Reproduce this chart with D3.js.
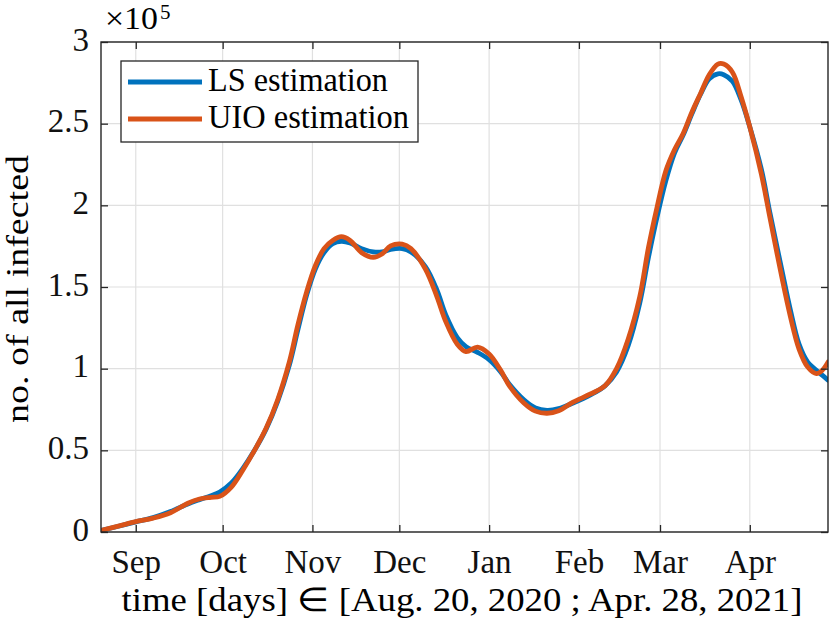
<!DOCTYPE html>
<html>
<head>
<meta charset="utf-8">
<script src="https://cdn.jsdelivr.net/npm/d3@7"></script>
<style>
body { margin: 0; background: #fff; }
svg { display: block; }
svg text { font-family: "Liberation Serif", "Times New Roman", serif; }
</style>
</head>
<body>
<svg id="grafico" width="830" height="627"></svg>
<script>
// days counted from Aug. 20, 2020
let dias = [0, 6, 12, 18, 24, 30, 34, 38, 41, 45, 49, 53, 57, 61, 65, 68, 71, 74, 77, 80,
  83, 86, 90, 94, 97, 100, 104, 107, 112, 116, 119, 123, 126, 130, 134, 138, 141, 146,
  150, 154, 158, 163, 169, 174, 178, 182, 186, 189, 192, 195, 198, 201, 204, 207, 210,
  213, 215, 218, 221, 224, 228, 231, 235, 238, 241, 244, 247, 249, 251];

// values in units of 1e5
let lsEstimation = [0.01, 0.035, 0.062, 0.088, 0.125, 0.172, 0.198, 0.222, 0.245, 0.30,
  0.39, 0.50, 0.63, 0.80, 1.02, 1.24, 1.45, 1.61, 1.71, 1.765, 1.78, 1.77, 1.735, 1.715,
  1.715, 1.73, 1.735, 1.715, 1.625, 1.48, 1.33, 1.19, 1.135, 1.10, 1.055, 0.98, 0.905,
  0.81, 0.76, 0.745, 0.755, 0.79, 0.84, 0.895, 0.98, 1.14, 1.40, 1.68, 1.93, 2.15, 2.32,
  2.43, 2.56, 2.68, 2.775, 2.805, 2.80, 2.76, 2.645, 2.48, 2.22, 1.95, 1.61, 1.36, 1.15,
  1.04, 0.99, 0.96, 0.93];

let uioEstimation = [0.01, 0.036, 0.063, 0.085, 0.118, 0.176, 0.202, 0.212, 0.218, 0.275,
  0.38, 0.50, 0.635, 0.81, 1.04, 1.27, 1.47, 1.63, 1.735, 1.785, 1.808, 1.785, 1.71, 1.682,
  1.702, 1.752, 1.763, 1.735, 1.61, 1.44, 1.29, 1.15, 1.105, 1.132, 1.09, 0.99, 0.895,
  0.79, 0.74, 0.727, 0.742, 0.795, 0.845, 0.895, 1.0, 1.18, 1.44, 1.74, 1.99, 2.21, 2.34,
  2.44, 2.57, 2.685, 2.80, 2.865, 2.865, 2.815, 2.665, 2.48, 2.19, 1.92, 1.565, 1.32, 1.12,
  1.01, 0.97, 0.99, 1.04];

let meses = ['Sep', 'Oct', 'Nov', 'Dec', 'Jan', 'Feb', 'Mar', 'Apr'];
let yTicks = [0, 0.5, 1, 1.5, 2, 2.5, 3];
let legendas = ['LS estimation', 'UIO estimation'];
let cores = ['#0072BD', '#D95319'];

let inicio = new Date(2020, 7, 20);
let fim = new Date(2021, 3, 28);

let svg = d3.select('#grafico');
let esq = 101, dir = 828, topo = 42, base = 532;
let larguraPlotagem = dir - esq;
let alturaPlotagem = base - topo;

let fnx = d3.scaleTime().domain([inicio, fim]).range([0, larguraPlotagem]);
let fny = d3.scaleLinear().domain([0, 3]).range([alturaPlotagem, 0]);

let plotagem = svg.append('g').attr('transform', `translate(${esq}, ${topo})`);

svg.append('defs').append('clipPath').attr('id', 'recorte')
  .append('rect').attr('width', larguraPlotagem).attr('height', alturaPlotagem);

let tickDatas = d3.timeMonth.range(d3.timeMonth.ceil(inicio), fim);

// grid
let grade = plotagem.append('g').attr('class', 'grade');
grade.selectAll('.gx').data(tickDatas).join('line')
  .attr('x1', d => fnx(d)).attr('x2', d => fnx(d))
  .attr('y1', 0).attr('y2', alturaPlotagem);
grade.selectAll('.gy').data(yTicks).join('line')
  .attr('x1', 0).attr('x2', larguraPlotagem)
  .attr('y1', d => fny(d)).attr('y2', d => fny(d));
grade.selectAll('line').attr('stroke', '#e0e0e0').attr('stroke-width', 1.2);

// curves
let linha = d3.line()
  .x(d => fnx(d3.timeDay.offset(inicio, d[0])))
  .y(d => fny(d[1]))
  .curve(d3.curveCatmullRom.alpha(0.5));

let series = [lsEstimation, uioEstimation];
plotagem.append('g').attr('clip-path', 'url(#recorte)')
  .selectAll('path').data(series).join('path')
  .attr('d', s => linha(dias.map((d, i) => [d, s[i]])))
  .attr('fill', 'none')
  .attr('stroke', (s, i) => cores[i])
  .attr('stroke-width', 4.8)
  .attr('stroke-linejoin', 'round')
  .attr('stroke-linecap', 'round');

// axes, ticks inward on all sides
let eixoX = d3.axisBottom(fnx).tickValues(tickDatas)
  .tickFormat((d, i) => meses[i]).tickSizeInner(-7).tickSizeOuter(0).tickPadding(18);
let eixoY = d3.axisLeft(fny).tickValues(yTicks)
  .tickFormat(d3.format('~g')).tickSizeInner(-7).tickSizeOuter(0).tickPadding(12);

let gx = plotagem.append('g').attr('transform', `translate(0, ${alturaPlotagem})`).call(eixoX);
let gy = plotagem.append('g').call(eixoY);
let gt = plotagem.append('g').call(d3.axisTop(fnx).tickValues(tickDatas).tickFormat('').tickSizeInner(-7).tickSizeOuter(0));
let gr = plotagem.append('g').attr('transform', `translate(${larguraPlotagem}, 0)`)
  .call(d3.axisRight(fny).tickValues(yTicks).tickFormat('').tickSizeInner(-7).tickSizeOuter(0));

[gx, gy, gt, gr].forEach(g => {
  g.attr('font-family', null).attr('font-size', null);
  g.select('.domain').remove();
  g.selectAll('line').attr('stroke', '#262626').attr('stroke-width', 1.3);
  g.selectAll('text').attr('fill', '#111').style('font-size', '33px');
});
gy.selectAll('text').attr('dy', '0.25em');

plotagem.append('rect')
  .attr('width', larguraPlotagem).attr('height', alturaPlotagem)
  .attr('fill', 'none').attr('stroke', '#262626').attr('stroke-width', 1.4);

// exponent
svg.append('text').attr('x', 105).attr('y', 29)
  .attr('textLength', 53).attr('lengthAdjust', 'spacingAndGlyphs')
  .style('font-size', '31px').text('×10');
svg.append('text').attr('x', 160).attr('y', 19)
  .style('font-size', '21px').text('5');

// axis titles
svg.append('text')
  .attr('x', 462).attr('y', 611)
  .attr('text-anchor', 'middle')
  .attr('textLength', 681).attr('lengthAdjust', 'spacingAndGlyphs')
  .style('font-size', '33px')
  .text('time [days] ∈ [Aug. 20, 2020 ; Apr. 28, 2021]');

svg.append('text')
  .attr('transform', 'translate(28, 289) rotate(-90)')
  .attr('text-anchor', 'middle')
  .attr('textLength', 268).attr('lengthAdjust', 'spacingAndGlyphs')
  .style('font-size', '31px')
  .text('no. of all infected');

// legend
let leg = svg.append('g');
leg.append('rect').attr('x', 121).attr('y', 61).attr('width', 297).attr('height', 81)
  .attr('fill', '#fff').attr('stroke', '#262626').attr('stroke-width', 1.3);
let larguras = [180, 201];
legendas.forEach((t, i) => {
  let y = 82 + i * 37;
  leg.append('line').attr('x1', 128).attr('x2', 202).attr('y1', y).attr('y2', y)
    .attr('stroke', cores[i]).attr('stroke-width', 4.8);
  leg.append('text').attr('x', 208).attr('y', y + 9)
    .attr('textLength', larguras[i]).attr('lengthAdjust', 'spacingAndGlyphs')
    .style('font-size', '33px').text(t);
});
</script>
</body>
</html>
